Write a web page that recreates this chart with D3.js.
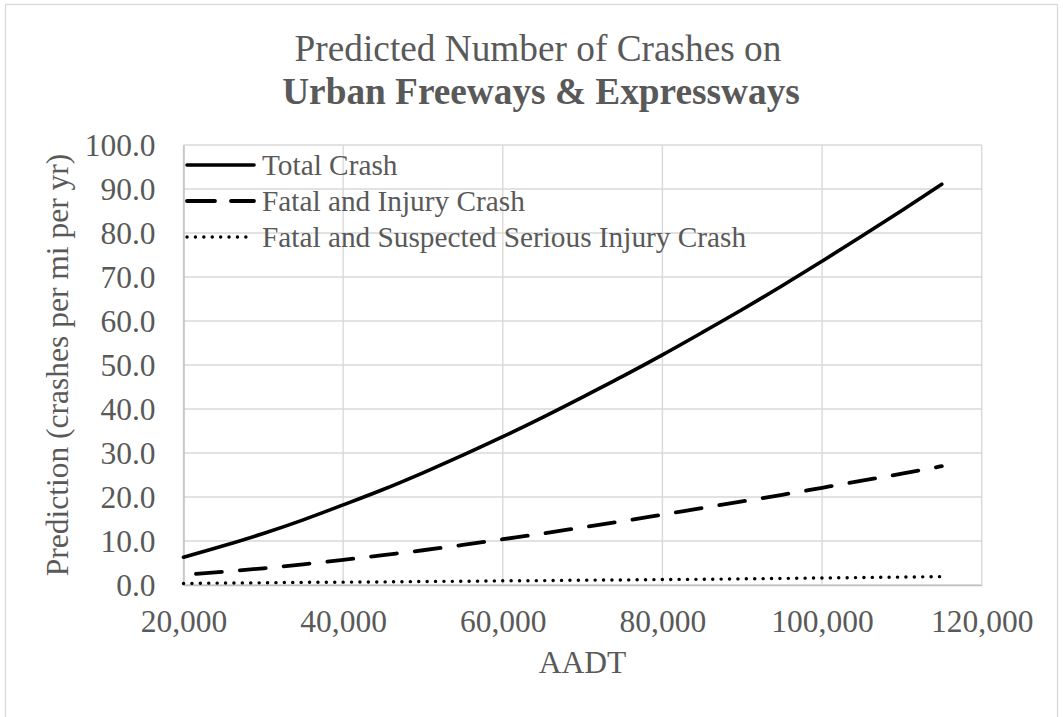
<!DOCTYPE html>
<html>
<head>
<meta charset="utf-8">
<script src="https://cdn.jsdelivr.net/npm/d3@7/dist/d3.min.js"></script>
<style>
  html, body { margin: 0; padding: 0; background: #ffffff; }
  svg { display: block; }
  text { font-family: "Liberation Serif", "Times New Roman", serif; fill: #595959; }
</style>
</head>
<body>
<svg id="chart" width="1063" height="717"></svg>
<script>
// ---- data ----
const aadt = [20000, 25000, 30000, 35000, 40000, 45000, 50000, 55000, 60000, 65000,
              70000, 75000, 80000, 85000, 90000, 95000, 100000, 105000, 110000, 115000];
const totalCrash = [6.3, 8.9, 11.7, 14.8, 18.2, 21.7, 25.5, 29.5, 33.7, 38.1,
                    42.7, 47.4, 52.3, 57.4, 62.6, 68.0, 73.6, 79.3, 85.1, 91.1];
const fatalInjury = [2.3, 3.0, 3.8, 4.7, 5.7, 6.8, 7.9, 9.1, 10.4, 11.7,
                     13.1, 14.5, 16.0, 17.5, 19.0, 20.5, 22.1, 23.7, 25.3, 27.0];
const fatalSerious = [0.35, 0.45, 0.5, 0.6, 0.65, 0.7, 0.8, 0.85, 0.95, 1.0,
                      1.1, 1.15, 1.25, 1.3, 1.4, 1.5, 1.6, 1.7, 1.8, 1.9];
const seriesNames = ["Total Crash", "Fatal and Injury Crash", "Fatal and Suspected Serious Injury Crash"];
const xTicks = [20000, 40000, 60000, 80000, 100000, 120000];
const yTicks = [0, 10, 20, 30, 40, 50, 60, 70, 80, 90, 100];
const titleLine1 = "Predicted Number of Crashes on";
const titleLine2 = "Urban Freeways & Expressways";
const xTitle = "AADT";
const yTitle = "Prediction (crashes per mi per yr)";

// ---- layout ----
const svg = d3.select("#chart");
const W = 1063, H = 717;
const plot = { left: 183.5, right: 981.7, top: 145, bottom: 585 };
const tickFont = 31.5, legendFont = 29.3, titleFont = 37.3;

// chart border (bottom edge lies outside the picture)
svg.append("rect").attr("x", 5.5).attr("y", 4.5).attr("width", 1052).attr("height", H + 20)
  .attr("fill", "#fff").attr("stroke", "#d9d9d9").attr("stroke-width", 1.3);

const x = d3.scaleLinear().domain([20000, 120000]).range([plot.left, plot.right]);
const y = d3.scaleLinear().domain([0, 100]).range([plot.bottom, plot.top]);

// gridlines
const grid = svg.append("g");
grid.selectAll("line.h").data(yTicks).join("line")
  .attr("x1", plot.left).attr("x2", plot.right)
  .attr("y1", d => y(d)).attr("y2", d => y(d))
  .attr("stroke", "#d9d9d9").attr("stroke-width", 1.4);
grid.selectAll("line.v").data(xTicks).join("line")
  .attr("y1", plot.top).attr("y2", plot.bottom)
  .attr("x1", d => x(d)).attr("x2", d => x(d))
  .attr("stroke", "#d9d9d9").attr("stroke-width", 1.4);

// axes
const xAxis = svg.append("g").attr("transform", `translate(0,${plot.bottom})`)
  .call(d3.axisBottom(x).tickValues(xTicks).tickFormat(d3.format(",")).tickSize(0).tickPadding(25));
xAxis.select(".domain").attr("stroke", "#bfbfbf").attr("stroke-width", 1.4);
xAxis.selectAll("text").style("font-size", tickFont + "px").style("font-family", "Liberation Serif").attr("fill", "#595959");

const yAxis = svg.append("g").attr("transform", `translate(${plot.left},0)`)
  .call(d3.axisLeft(y).tickValues(yTicks).tickFormat(d3.format(".1f")).tickSize(0).tickPadding(28));
yAxis.select(".domain").attr("stroke", "#bfbfbf").attr("stroke-width", 1.4);
yAxis.selectAll("text").style("font-size", tickFont + "px").style("font-family", "Liberation Serif").attr("fill", "#595959");

// lines
const styles = [
  { dash: null, width: 3.6, offset: 0 },
  { dash: "26 18", width: 3.8, offset: 31.5 },
  { dash: "0.1 8.3", width: 3.4, offset: 0 }
];
const seriesData = [totalCrash, fatalInjury, fatalSerious];
const line = d3.line().x(d => x(d[0])).y(d => y(d[1])).curve(d3.curveMonotoneX);
seriesData.forEach((vals, i) => {
  svg.append("path")
    .datum(aadt.map((a, j) => [a, vals[j]]))
    .attr("d", line)
    .attr("fill", "none").attr("stroke", "#000")
    .attr("stroke-width", styles[i].width)
    .attr("stroke-linecap", "round").attr("stroke-linejoin", "round")
    .attr("stroke-dasharray", styles[i].dash)
    .attr("stroke-dashoffset", styles[i].offset);
});

// legend
const legendY = [165, 201, 237];
const legend = svg.append("g");
seriesNames.forEach((name, i) => {
  const yy = legendY[i];
  legend.append("line")
    .attr("x1", 187).attr("x2", 254).attr("y1", yy).attr("y2", yy)
    .attr("stroke", "#000").attr("stroke-width", styles[i].width)
    .attr("stroke-linecap", "round")
    .attr("stroke-dasharray", i === 1 ? "28 16" : styles[i].dash);
  legend.append("text").attr("x", 262).attr("y", yy).attr("dy", "0.33em")
    .style("font-size", legendFont + "px").text(name);
});

// titles
svg.append("text").attr("x", 538).attr("y", 61).attr("text-anchor", "middle")
  .style("font-size", titleFont + "px").text(titleLine1);
svg.append("text").attr("x", 541).attr("y", 104).attr("text-anchor", "middle")
  .style("font-size", titleFont + "px").style("font-weight", "bold").text(titleLine2);

svg.append("text").attr("x", x(70000)).attr("y", 673).attr("text-anchor", "middle")
  .style("font-size", tickFont + "px").text(xTitle);
svg.append("text").attr("transform", `translate(68,${(plot.top + plot.bottom) / 2}) rotate(-90)`)
  .attr("text-anchor", "middle")
  .style("font-size", tickFont + "px").text(yTitle);
</script>
</body>
</html>
